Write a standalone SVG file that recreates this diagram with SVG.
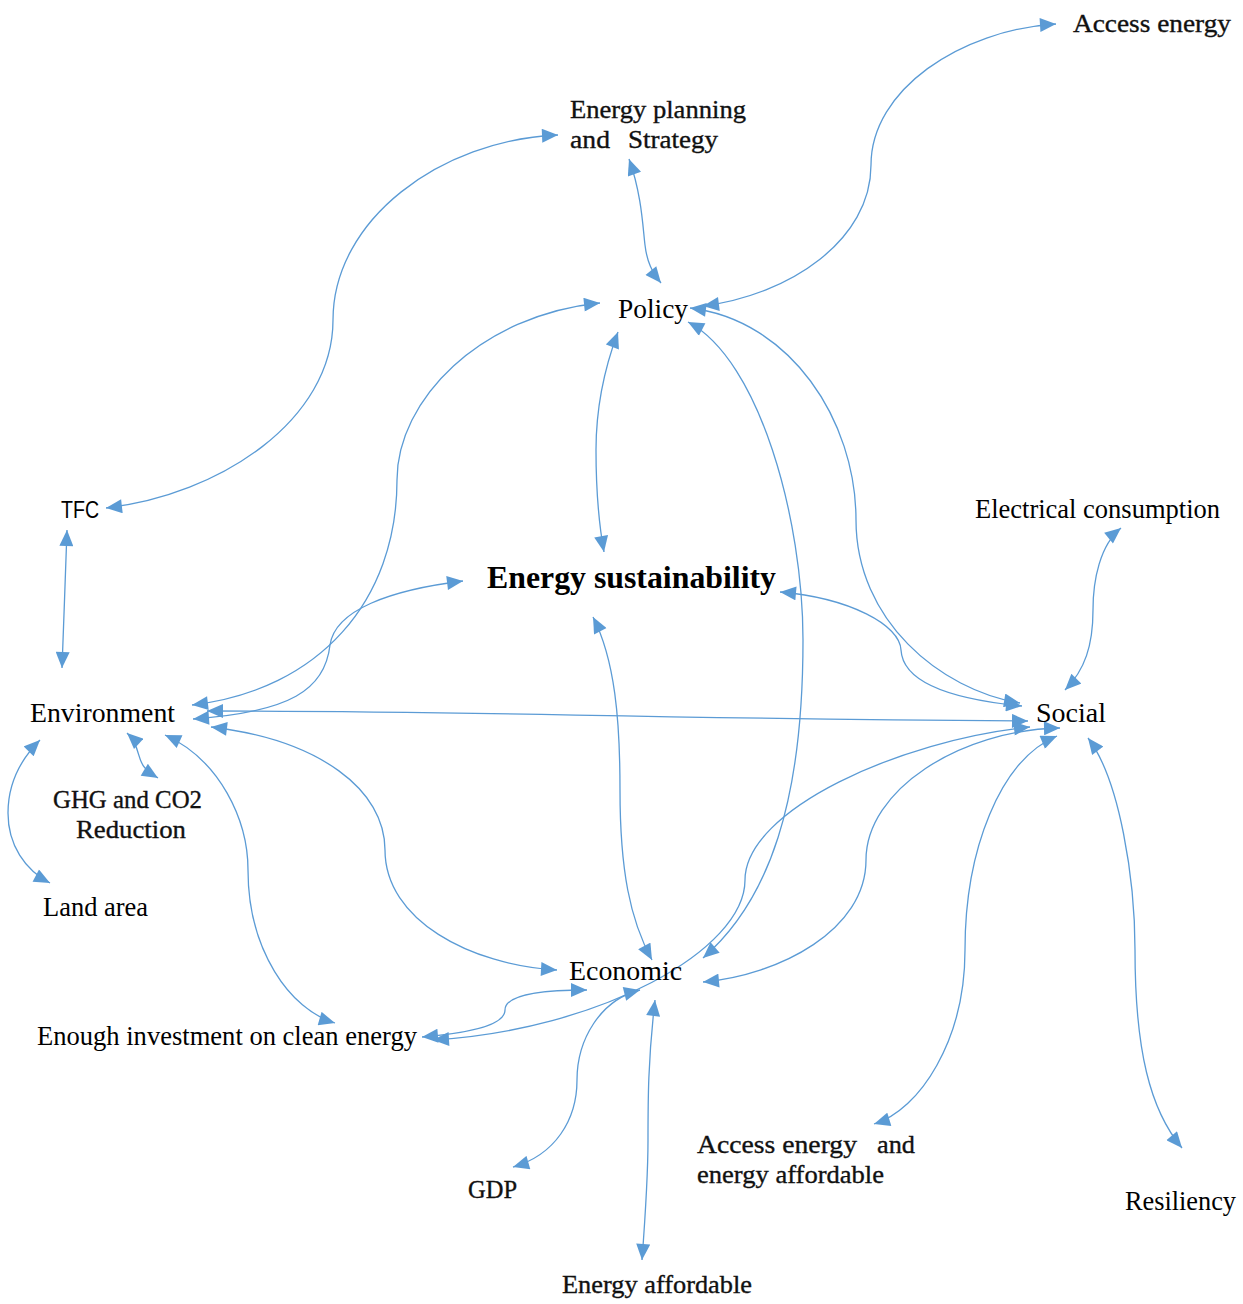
<svg xmlns="http://www.w3.org/2000/svg" width="1243" height="1304" viewBox="0 0 1243 1304">
<style>
.lbl{font-family:"Liberation Serif","Times New Roman",serif;font-size:26.5px;fill:#000}
.lbl2{font-family:"Liberation Serif","Times New Roman",serif;font-size:26px;fill:#111;stroke:#111;stroke-width:0.35}
.sans{font-family:"Liberation Sans",Arial,sans-serif;font-size:24px;fill:#000}
.bold{font-family:"Liberation Serif","Times New Roman",serif;font-size:31.5px;font-weight:bold;fill:#000}
.c{fill:none;stroke:#5B9BD5;stroke-width:1.3;marker-start:url(#ah);marker-end:url(#ah)}
</style>
<defs>
<marker id="ah" viewBox="0 0 16 14" refX="16" refY="7" markerWidth="17" markerHeight="14" markerUnits="userSpaceOnUse" orient="auto-start-reverse">
<path d="M0,0 L16,7 L0,14 z" fill="#5B9BD5"/>
</marker>
</defs>
<g id="connectors">
<path class="c" d="M106,508 C220,495 333,420 333,320 C333,220 440,140 558,135"/>
<path class="c" d="M629,159 C642,195 643,230 645,245 C647,262 652,272 661,283"/>
<path class="c" d="M1056,24 C960,30 871,90 871,165 C871,240 790,295 703,306"/>
<path class="c" d="M618,332 C600,380 596,420 596,450 C596,500 600,530 604,552"/>
<path class="c" d="M600,303 C480,315 397,400 397,480 C397,600 320,690 192,705"/>
<path class="c" d="M463,581 C390,590 335,610 330,645 C325,690 290,712 193,719"/>
<path class="c" d="M207,711 C500,711 600,718 1028,721"/>
<path class="c" d="M1030,727 C900,740 745,810 745,880 C745,950 600,1030 433,1040"/>
<path class="c" d="M688,322 C760,360 803,520 803,640 C803,800 770,900 703,958"/>
<path class="c" d="M690,308 C790,320 856,420 856,520 C856,620 940,690 1020,703"/>
<path class="c" d="M780,592 C850,598 900,625 901,650 C903,685 960,700 1022,706"/>
<path class="c" d="M593,617 C615,660 620,720 620,790 C620,870 630,920 652,960"/>
<path class="c" d="M211,727 C320,740 385,790 385,850 C385,920 470,965 557,970"/>
<path class="c" d="M165,735 C220,760 248,820 248,870 C248,950 290,1010 335,1023"/>
<path class="c" d="M587,990 C540,990 505,995 505,1010 C505,1025 470,1033 422,1037"/>
<path class="c" d="M640,990 C600,1000 577,1040 577,1080 C577,1120 555,1155 513,1167"/>
<path class="c" d="M655,1000 C648,1060 648,1100 648,1140 C648,1180 645,1220 642,1260"/>
<path class="c" d="M1060,728 C960,730 866,790 866,860 C866,930 780,975 703,982"/>
<path class="c" d="M1057,736 C1000,760 965,850 965,950 C965,1040 920,1110 874,1124"/>
<path class="c" d="M1088,738 C1120,780 1135,880 1135,950 C1135,1050 1150,1110 1182,1148"/>
<path class="c" d="M1121,528 C1100,545 1093,580 1093,610 C1093,645 1085,670 1065,690"/>
<path class="c" d="M67,530 C65,580 64,620 62,668"/>
<path class="c" d="M127,733 C140,745 137,760 145,768 C150,773 153,775 158,778"/>
<path class="c" d="M40,740 C20,760 8,785 8,813 C8,845 25,870 50,883"/>
</g>
<g id="access-energy"><text class="lbl2" x="1073" y="32" textLength="158" lengthAdjust="spacingAndGlyphs">Access energy</text></g>
<g id="energy-planning"><text class="lbl2" x="570" y="118" textLength="176" lengthAdjust="spacingAndGlyphs">Energy planning</text><text class="lbl2" x="570" y="148" textLength="40" lengthAdjust="spacingAndGlyphs">and</text><text class="lbl2" x="628" y="148" textLength="90" lengthAdjust="spacingAndGlyphs">Strategy</text></g>
<g id="policy"><text class="lbl" x="618" y="318" textLength="70" lengthAdjust="spacingAndGlyphs">Policy</text></g>
<g id="energy-sustainability"><text class="bold" x="487" y="588" textLength="289" lengthAdjust="spacingAndGlyphs">Energy sustainability</text></g>
<g id="tfc"><text class="sans" x="61" y="518" textLength="38" lengthAdjust="spacingAndGlyphs">TFC</text></g>
<g id="electrical-consumption"><text class="lbl" x="975" y="518" textLength="245" lengthAdjust="spacingAndGlyphs">Electrical consumption</text></g>
<g id="environment"><text class="lbl" x="30" y="722" textLength="145" lengthAdjust="spacingAndGlyphs">Environment</text></g>
<g id="social"><text class="lbl" x="1036" y="722" textLength="70" lengthAdjust="spacingAndGlyphs">Social</text></g>
<g id="ghg"><text class="lbl2" x="53" y="808" textLength="149" lengthAdjust="spacingAndGlyphs">GHG and CO2</text><text class="lbl2" x="76" y="838" textLength="110" lengthAdjust="spacingAndGlyphs">Reduction</text></g>
<g id="land-area"><text class="lbl" x="43" y="916" textLength="105" lengthAdjust="spacingAndGlyphs">Land area</text></g>
<g id="economic"><text class="lbl" x="569" y="980" textLength="113" lengthAdjust="spacingAndGlyphs">Economic</text></g>
<g id="investment"><text class="lbl" x="37" y="1045" textLength="380" lengthAdjust="spacingAndGlyphs">Enough investment on clean energy</text></g>
<g id="gdp"><text class="lbl2" x="468" y="1198" textLength="49" lengthAdjust="spacingAndGlyphs">GDP</text></g>
<g id="energy-affordable"><text class="lbl2" x="562" y="1293" textLength="190" lengthAdjust="spacingAndGlyphs">Energy affordable</text></g>
<g id="access-affordable"><text class="lbl2" x="697" y="1153" textLength="160" lengthAdjust="spacingAndGlyphs">Access energy</text><text class="lbl2" x="877" y="1153" textLength="38" lengthAdjust="spacingAndGlyphs">and</text><text class="lbl2" x="697" y="1183" textLength="187" lengthAdjust="spacingAndGlyphs">energy affordable</text></g>
<g id="resiliency"><text class="lbl" x="1125" y="1210" textLength="111" lengthAdjust="spacingAndGlyphs">Resiliency</text></g>
</svg>
